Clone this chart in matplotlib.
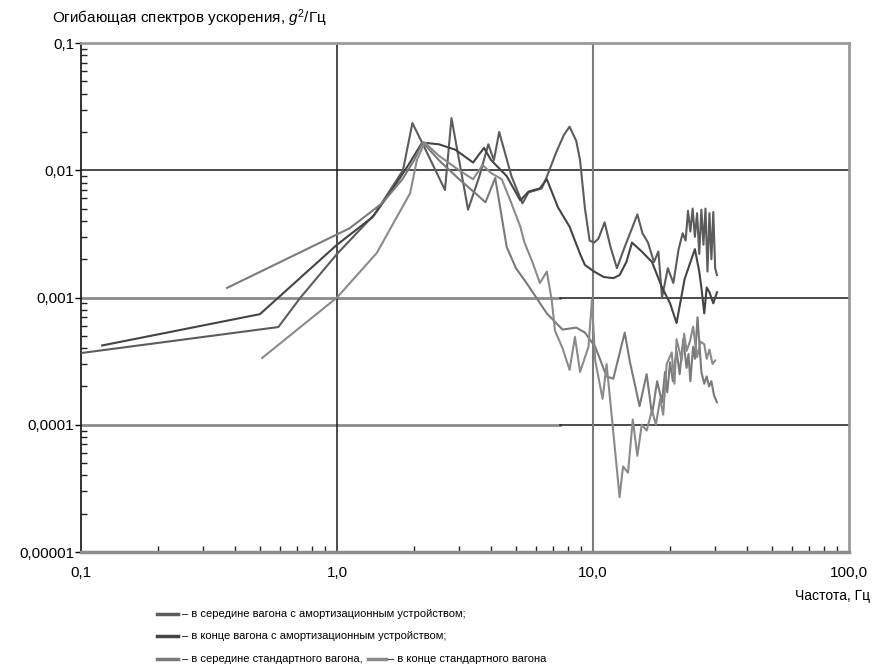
import matplotlib
matplotlib.use("Agg")
import matplotlib.pyplot as plt
from matplotlib.lines import Line2D
from matplotlib.ticker import FixedLocator, LogLocator, NullFormatter

plt.rcParams["font.family"] = ["Liberation Sans", "DejaVu Sans"]
plt.rcParams["mathtext.fontset"] = "custom"
plt.rcParams["mathtext.it"] = "Liberation Sans:italic"
plt.rcParams["mathtext.rm"] = "Liberation Sans"

# middle of car with shock absorber
freq_a = [0.1, 0.59, 0.72, 1.0, 1.4, 1.81, 1.97, 2.2, 2.64, 2.8, 3.25, 3.6, 3.9,
          4.1, 4.3, 4.8, 5.3, 5.6, 6.3, 6.6, 7.2, 7.7, 8.1, 8.6, 8.9, 9.3, 9.7,
          10.1, 10.5, 11.1, 11.7, 12.4, 13.3, 14.2, 14.9, 15.6, 16.4, 17.3, 18.0,
          18.6, 19.6, 20.6, 21.6, 22.4, 23.0, 23.5, 24.0, 24.5, 25.0, 25.5, 26.0,
          26.5, 27.0, 27.5, 28.0, 28.5, 29.0, 29.5, 30.0, 30.5]
val_a = [0.000366, 0.000586, 0.001, 0.0022, 0.0045, 0.010, 0.0235, 0.015, 0.007,
         0.0257, 0.0049, 0.009, 0.016, 0.012, 0.020, 0.009, 0.0055, 0.0067, 0.0072,
         0.0089, 0.014, 0.019, 0.022, 0.017, 0.012, 0.005, 0.0028, 0.0027, 0.0029,
         0.0039, 0.0025, 0.0017, 0.0025, 0.0035, 0.0045, 0.0032, 0.0027, 0.0019,
         0.0023, 0.001, 0.0017, 0.0013, 0.0024, 0.0032, 0.0028, 0.0048, 0.0033,
         0.005, 0.003, 0.0046, 0.0022, 0.0049, 0.0026, 0.005, 0.0016, 0.0046, 0.002,
         0.0047, 0.0017, 0.0015]

# end of car with shock absorber
freq_b = [0.121, 0.50, 1.0, 1.38, 1.64, 1.9, 2.15, 2.5, 2.9, 3.4, 3.75, 4.0, 4.6,
          5.2, 5.6, 6.2, 6.6, 7.3, 8.1, 8.9, 9.3, 10.1, 11.0, 12.0, 12.7, 13.5,
          14.2, 15.5, 17.0, 18.6, 20.0, 21.2, 22.8, 25.0, 26.0, 26.5, 27.2, 27.8,
          28.5, 29.5, 30.5]
val_b = [0.00042, 0.00074, 0.0026, 0.0043, 0.007, 0.011, 0.0165, 0.016, 0.0145,
         0.0115, 0.015, 0.012, 0.009, 0.0058, 0.0068, 0.0072, 0.0085, 0.0051,
         0.0036, 0.0022, 0.0018, 0.0016, 0.00145, 0.00142, 0.0015, 0.0019, 0.0027,
         0.0023, 0.0019, 0.0012, 0.0009, 0.00063, 0.0014, 0.0024, 0.0016, 0.0012,
         0.00075, 0.0012, 0.0011, 0.0009, 0.0011]

# middle of standard car
freq_c = [0.372, 1.12, 1.5, 1.8, 2.0, 2.16, 2.5, 3.0, 3.5, 3.8, 4.15, 4.6, 5.0,
          5.5, 6.0, 6.6, 7.6, 8.6, 9.3, 10.2, 11.3, 12.0, 13.3, 13.9, 15.2, 16.2,
          17.0, 17.8, 18.6, 19.1, 19.5, 20.0, 20.5, 21.2, 21.8, 22.5, 23.2, 23.6,
          24.0, 24.6, 25.0, 25.6, 26.5, 27.2, 27.8, 28.4, 29.0, 29.7, 30.5]
val_c = [0.00119, 0.0035, 0.0055, 0.0085, 0.012, 0.0166, 0.012, 0.0085, 0.0065,
         0.0056, 0.0087, 0.0025, 0.0017, 0.0013, 0.001, 0.00075, 0.00056, 0.00058,
         0.00053, 0.00041, 0.00024, 0.00023, 0.00053, 0.00032, 0.00014, 0.00025,
         0.00012, 0.00022, 0.00015, 0.00026, 0.00018, 0.00031, 0.00022, 0.00038,
         0.00025, 0.00047, 0.00028, 0.00036, 0.00022, 0.00041, 0.00033, 0.0007,
         0.00026, 0.00021, 0.00024, 0.0002, 0.00022, 0.00017, 0.00015]

# end of standard car
freq_d = [0.51, 1.0, 1.43, 1.93, 2.05, 2.2, 2.5, 3.0, 3.4, 3.7, 4.0, 4.4, 4.8,
          5.2, 5.4, 5.8, 6.2, 6.6, 6.9, 7.1, 7.6, 8.1, 8.5, 8.9, 9.6, 9.9, 10.2,
          10.9, 11.3, 11.9, 12.7, 13.1, 13.7, 14.3, 14.9, 15.5, 16.2, 17.0, 17.6,
          18.3, 18.8, 19.4, 20.3, 20.8, 21.2, 22.2, 22.7, 23.2, 23.9, 24.6, 25.5,
          26.3, 27.2, 27.8, 28.5, 29.3, 30.0]
val_d = [0.000335, 0.001, 0.00224, 0.0066, 0.012, 0.0165, 0.013, 0.01, 0.0085,
         0.011, 0.0095, 0.0085, 0.0055, 0.0036, 0.0027, 0.0019, 0.0013, 0.0016,
         0.00095, 0.00055, 0.0004, 0.00027, 0.00049, 0.00026, 0.00041, 0.00095,
         0.00032, 0.00016, 0.0003, 0.000104, 0.000027, 0.000047, 0.000042, 0.00011,
         0.000057, 0.0001, 0.00009, 0.00013, 0.0001, 0.00016, 0.00012, 0.0003,
         0.00037, 0.00021, 0.00047, 0.00032, 0.00052, 0.00038, 0.00045, 0.00059,
         0.00034, 0.00045, 0.00043, 0.00033, 0.00039, 0.0003, 0.00032]

labels = ["– в середине вагона с амортизационным устройством;",
          "– в конце вагона с амортизационным устройством;",
          "– в середине стандартного вагона,",
          "– в конце стандартного вагона"]
colors = ["#5c5c5c", "#444444", "#7a7a7a", "#8a8a8a"]

x_ticks = [0.1, 1.0, 10.0, 100.0]
x_ticklabels = ["0,1", "1,0", "10,0", "100,0"]
y_ticks = [1e-5, 1e-4, 1e-3, 1e-2, 1e-1]
y_ticklabels = ["0,00001", "0,0001", "0,001", "0,01", "0,1"]

fig = plt.figure(figsize=(8.75, 6.7), dpi=100)
ax = fig.add_axes([0.0926, 0.1761, 0.8777, 0.7597])

series = [(freq_a, val_a), (freq_b, val_b), (freq_c, val_c), (freq_d, val_d)]
for (f, v), c in zip(series, colors):
    ax.plot(f, v, color=c, lw=1.5, zorder=3)

ax.set_xscale("log")
ax.set_yscale("log")
ax.set_xlim(0.1, 100)
ax.set_ylim(1e-5, 0.1)

ax.xaxis.set_major_locator(FixedLocator(x_ticks))
ax.set_xticklabels(x_ticklabels)
ax.yaxis.set_major_locator(FixedLocator(y_ticks))
ax.set_yticklabels(y_ticklabels)
ax.xaxis.set_minor_locator(LogLocator(base=10, subs=range(2, 10)))
ax.yaxis.set_minor_locator(LogLocator(base=10, subs=range(2, 10)))
ax.xaxis.set_minor_formatter(NullFormatter())
ax.yaxis.set_minor_formatter(NullFormatter())

ax.tick_params(which="major", axis="y", direction="out", length=4, width=1,
               labelsize=11, pad=1)
ax.tick_params(which="major", axis="x", direction="out", length=0,
               labelsize=11, pad=10)
ax.tick_params(which="minor", direction="in", length=4, width=1, color="#222222")

# grid: lower two lines grey on the left part, black on the right
ax.axhline(1e-2, color="#1a1a1a", lw=1.1, zorder=1)
for v in [1e-4, 1e-3]:
    ax.plot([0.1, 7.4], [v, v], color="#8a8a8a", lw=2, zorder=1)
    ax.plot([7.4, 100], [v, v], color="#1a1a1a", lw=1.1, zorder=1)
ax.axvline(1.0, color="#1a1a1a", lw=1.1, zorder=1)
ax.axvline(10.0, color="#7a7a7a", lw=1.5, zorder=1)

ax.spines["left"].set_color("#222222")
ax.spines["left"].set_linewidth(1.3)
ax.spines["bottom"].set_color("#8c8c8c")
ax.spines["bottom"].set_linewidth(2.5)
ax.spines["top"].set_color("#9a9a9a")
ax.spines["top"].set_linewidth(2)
ax.spines["right"].set_color("#9a9a9a")
ax.spines["right"].set_linewidth(2)

fig.text(52 / 875, 1 - 18 / 670, "Огибающая спектров ускорения, $g^2$/Гц",
         fontsize=11, ha="left", va="center")
fig.text(870 / 875, 1 - 596 / 670, "Частота, Гц", fontsize=10,
         ha="right", va="center")

# legend drawn as text rows with short line samples
leg_font = dict(fontsize=8, ha="left", va="center")
renderer = fig.canvas.get_renderer()
for y, i in [(614, 0), (636, 1), (659, 2)]:
    yf = 1 - y / 670
    fig.add_artist(Line2D([157 / 875, 178 / 875], [yf, yf], color=colors[i],
                          lw=2.5, transform=fig.transFigure))
    t = fig.text(182 / 875, yf, labels[i], **leg_font)
yf = 1 - 659 / 670
x_end = t.get_window_extent(renderer).x1 / 875
fig.add_artist(Line2D([x_end + 5 / 875, x_end + 23 / 875], [yf, yf],
                      color=colors[3], lw=2.5, transform=fig.transFigure))
fig.text(x_end + 25 / 875, yf, labels[3], **leg_font)

fig.savefig("out.png", dpi=100)
